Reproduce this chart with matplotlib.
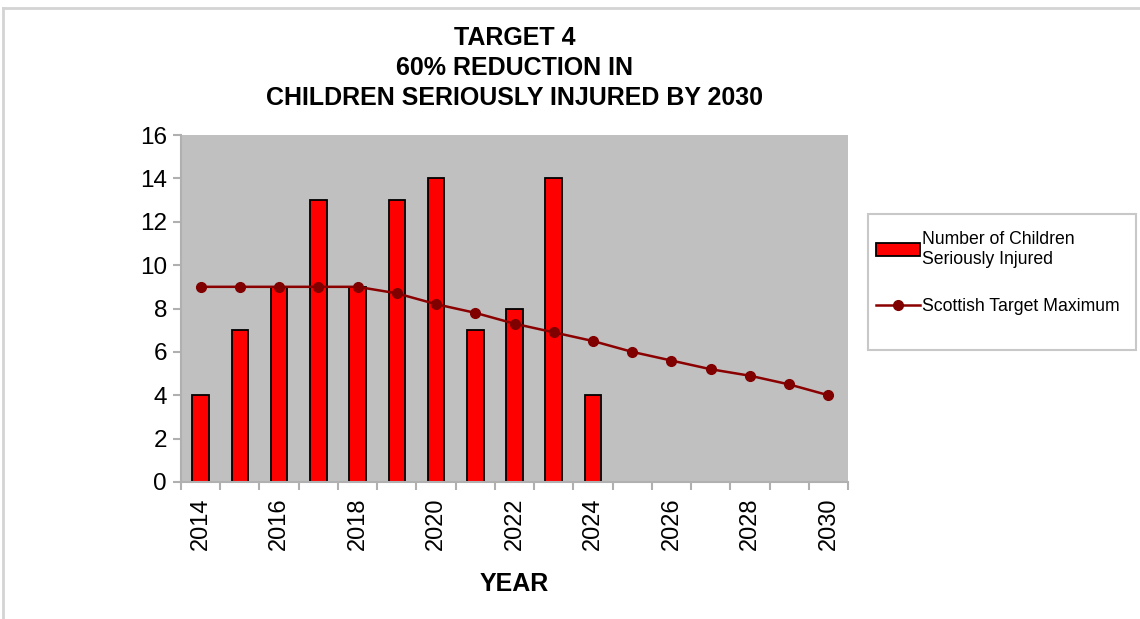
import matplotlib
matplotlib.use("Agg")
import matplotlib.pyplot as plt
from matplotlib.lines import Line2D
from matplotlib.patches import Rectangle
import numpy as np

years = [str(y) for y in range(2014, 2031)]
injured = [4, 7, 9, 13, 9, 13, 14, 7, 8, 14, 4]
target = [9.0, 9.0, 9.0, 9.0, 9.0, 8.7, 8.2, 7.8, 7.3, 6.9, 6.5, 6.0, 5.6, 5.2, 4.9, 4.5, 4.0]
title_lines = ["TARGET 4", "60% REDUCTION IN", "CHILDREN SERIOUSLY INJURED BY 2030"]

plt.rcParams['font.family'] = ['Liberation Sans', 'DejaVu Sans']

W, H = 1140, 619
fig = plt.figure(figsize=(W / 100, H / 100), dpi=100)
fig.patch.set_facecolor('white')

# chart frame (partially cropped screenshot border)
fig.add_artist(Line2D([3 / W, 3 / W], [0, 1 - 8 / H], transform=fig.transFigure,
                      color='#d4d4d4', lw=2))
fig.add_artist(Line2D([3 / W, 1], [1 - 8 / H, 1 - 8 / H], transform=fig.transFigure,
                      color='#d4d4d4', lw=2))

L, R, T, B = 181, 848, 135, 482
ax = fig.add_axes([L / W, 1 - B / H, (R - L) / W, (B - T) / H])
ax.set_facecolor('#c0c0c0')

x = np.arange(len(years))
bars = ax.bar(x[:len(injured)], injured, width=0.42, color='#ff0000', edgecolor='black',
              linewidth=1.3, zorder=2, label='Number of Children\nSeriously Injured')
line, = ax.plot(x, target, color='#8b0000', lw=1.8, marker='o', markersize=7,
                markerfacecolor='#800000', markeredgecolor='#800000', zorder=3,
                label='Scottish Target Maximum')

ax.set_xlim(-0.5, len(years) - 0.5)
ax.set_ylim(0, 16)
ax.set_yticks(range(0, 17, 2))
ax.set_xticks(x[::2])
ax.set_xticklabels(years[::2], rotation=90)
ax.set_xticks(np.arange(-0.5, len(years), 1), minor=True)
ax.tick_params(axis='x', which='major', length=0, pad=11, labelsize=17)
ax.tick_params(axis='x', which='minor', length=6, color='#b0b0b0', width=1.5)
ax.tick_params(axis='y', length=6, color='#b0b0b0', width=1.5, labelsize=17.5, pad=4)

for s in ['top', 'right']:
    ax.spines[s].set_visible(False)
for s in ['left', 'bottom']:
    ax.spines[s].set_color('#b0b0b0')
    ax.spines[s].set_linewidth(1.5)

ax.set_xlabel('YEAR', fontsize=18, fontweight='bold', labelpad=16)

fig.text(514.5 / W, 1 - 68 / H, "\n".join(title_lines), ha='center', va='center',
         fontsize=18, fontweight='bold', linespacing=1.31)

# legend frame
fig.add_artist(Rectangle((868 / W, 1 - 350 / H), (1136 - 868) / W, 136 / H,
                         transform=fig.transFigure, facecolor='white',
                         edgecolor='#c8c8c8', lw=1.5))
leg = fig.legend([bars, line], [bars.get_label(), line.get_label()],
                 loc='upper left', bbox_to_anchor=(872 / W, 1 - 227 / H),
                 fontsize=12.7, frameon=False, handlelength=2.5, handletextpad=0.15,
                 labelspacing=1.7, borderpad=0.2, borderaxespad=0)
for t in leg.get_texts():
    t.set_linespacing(1.25)

fig.savefig('out.png', dpi=100)
